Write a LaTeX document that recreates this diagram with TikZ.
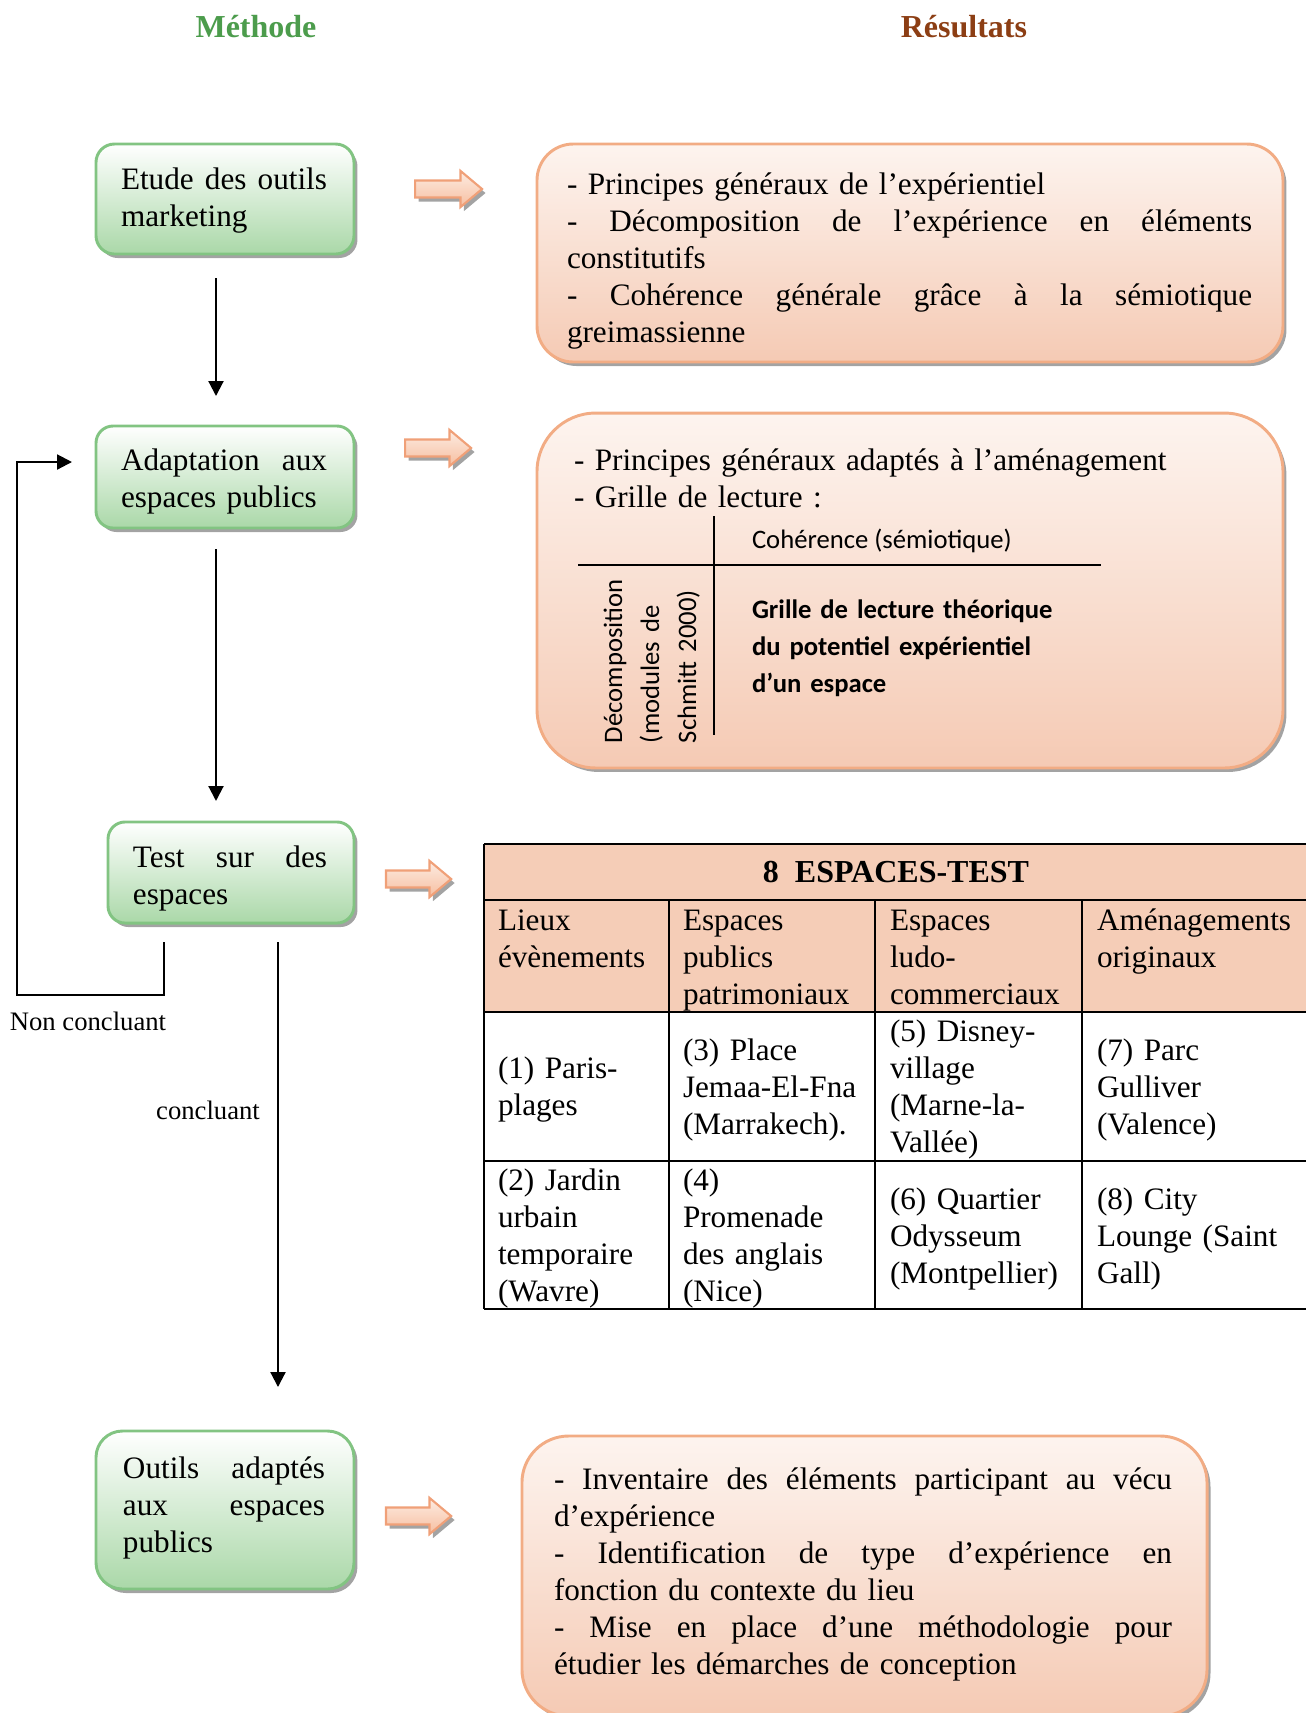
\documentclass[tikz,border=0pt]{standalone}
\usepackage{fontspec}
\setmainfont{Liberation Serif}
\newfontfamily\calibri{Carlito}
\usetikzlibrary{shapes.arrows,shadows,calc,arrows.meta}
\definecolor{methgreen}{RGB}{76,156,76}
\definecolor{resbrown}{RGB}{140,62,20}
\definecolor{gbot}{RGB}{170,216,168}
\definecolor{gborder}{RGB}{130,196,130}
\definecolor{ptop}{RGB}{253,244,239}
\definecolor{pbot}{RGB}{245,202,180}
\definecolor{pborder}{RGB}{242,172,132}
\definecolor{tfill}{RGB}{245,205,183}
\definecolor{atop}{RGB}{253,236,226}
\definecolor{abot}{RGB}{246,190,160}
\definecolor{aborder}{RGB}{240,160,120}
\newcommand{\jl}[1]{\leavevmode\hbox to \hsize{\spaceskip=0.25em plus 1fil\xspaceskip=\spaceskip\relax #1}}
\hyphenpenalty=10000
\begin{document}
\begin{tikzpicture}[x=0.375pt,y=-0.375pt,
  every node/.style={inner sep=0pt, outer sep=0pt},
  tnorm/.style={font=\fontsize{11.7}{13.9}\selectfont},
  tsmall/.style={font=\fontsize{10}{12}\selectfont},
  shad/.style={drop shadow={shadow xshift=1.3pt,shadow yshift=-1.5pt,fill=black!60,opacity=0.6}},
  gbox/.style={rounded corners=#1, draw=gborder, line width=1.1pt, top color=white, bottom color=gbot, shad},
  pbox/.style={rounded corners=#1, draw=pborder, line width=1.1pt, top color=ptop, bottom color=pbot, shad},
  btext/.style={tnorm, anchor=base west, align=left},
  barrow/.style={single arrow, minimum width=12.75pt, single arrow head extend=3.6pt, inner sep=2.8pt, single arrow tip angle=80, draw=aborder, line width=0.8pt, top color=atop, bottom color=abot, shad},
  varrow/.style={line width=0.8pt, -{Triangle[length=5.6pt,width=5.6pt]}},
  gridline/.style={line width=0.6pt},
  tline/.style={line width=0.8pt},
  cell/.style={tnorm, anchor=base west, align=left, text width=80pt},
  calib/.style={font=\calibri\fontsize{10}{13.9}\selectfont}
]
\useasboundingbox (0,0) rectangle (1306,1713);

% titles
\node[font=\fontsize{12}{13.9}\selectfont\bfseries, text=methgreen] (tm) at (256,27) {Méthode};
\node[font=\fontsize{12}{13.9}\selectfont\bfseries, text=resbrown] (tr) at (964,27) {Résultats};

% method boxes
\node[gbox=6.9pt, minimum width=96.75pt, minimum height=41.25pt] (b1) at (225,199) {};
\node[btext, text width=77.25pt] (b1t) at (121,189) {\jl{Etude des outils}\\marketing};
\node[gbox=6.4pt, minimum width=96.75pt, minimum height=38.25pt] (b2) at (225,477) {};
\node[btext, text width=77.25pt] (b2t) at (121,470) {\jl{Adaptation aux}\\espaces publics};
\node[gbox=6.4pt, minimum width=92.25pt, minimum height=37.9pt] (b3) at (231,872.5) {};
\node[btext, text width=72.75pt] (b3t) at (133,867) {\jl{Test sur des}\\espaces};
\node[gbox=9.9pt, minimum width=96.75pt, minimum height=59.25pt] (b4) at (225,1510) {};
\node[btext, text width=75.75pt] (b4t) at (123,1478) {\jl{Outils adaptés}\\\jl{aux espaces}\\publics};

% result boxes
\node[pbox=13.6pt, minimum width=279.75pt, minimum height=81.75pt] (r1) at (910,253) {};
\node[btext, text width=256.9pt] (r1t) at (567,194) {- Principes généraux de l’expérientiel\\\jl{- Décomposition de l’expérience en éléments}\\constitutifs\\\jl{- Cohérence générale grâce à la sémiotique}\\greimassienne};
\node[pbox=22pt, minimum width=279.75pt, minimum height=133.1pt] (r2) at (910,590.5) {};
\node[btext, text width=250pt] (r2t) at (574,470) {- Principes généraux adaptés à l’aménagement\\- Grille de lecture :};
\node[pbox=17.5pt, minimum width=256.9pt, minimum height=105pt] (r4) at (864.5,1576) {};
\node[btext, text width=231.75pt] (r4t) at (554,1489) {\jl{- Inventaire des éléments participant au vécu}\\d’expérience\\\jl{- Identification de type d’expérience en}\\fonction du contexte du lieu\\\jl{- Mise en place d’une méthodologie pour}\\étudier les démarches de conception};

% reading grid inside result box 2
\draw[gridline] (714,516) -- (714,735);
\draw[gridline] (578,565) -- (1101,565);
\node[calib, anchor=base west] (coh) at (752,548) {Cohérence (sémiotique)};
\node[font=\calibri\fontsize{10}{13.9}\selectfont\bfseries, anchor=base west, text width=130pt, align=left] (grl) at (752,618) {Grille de lecture théorique\\du potentiel expérientiel\\d’un espace};
\node[calib, rotate=90, anchor=base west, text width=80pt, align=left] (dec) at (622,743) {Décomposition\\(modules de\\Schmitt 2000)};

% block arrows
\node[barrow, minimum height=25.1pt] (a1) at (443.5,189) {};
\node[barrow, minimum height=24.75pt] (a2) at (433,448) {};
\node[barrow, minimum height=24.4pt] (a3) at (413.5,879) {};
\node[barrow, minimum height=24.4pt] (a4) at (413.5,1516) {};

% method connectors
\draw[varrow] ($(b1.south)+(-9,24)$) -- ($(b2.north)+(-9,-30)$);
\draw[varrow] ($(b2.south)+(-9,21)$) -- ($(b3.north)+(-15,-21)$);
\draw[varrow] ($(b3.south)+(-67,19)$) -- ++(0,53) -- ++(-147,0) |- ($(b2.west)+(-24,-15)$);
\draw[varrow] ($(b3.south)+(47,19)$) -- ($(b4.north)+(53,-44)$);
\node[tsmall] (nc) at (88,1021) {Non concluant};
\node[tsmall] (cc) at (208,1110) {concluant};

% table
\fill[tfill] (484,844) rectangle (1310,1012);
\draw[tline] (484,844) -- (1310,844) (484,900) -- (1310,900) (484,1012) -- (1310,1012)
  (484,1161) -- (1310,1161) (484,1309) -- (1310,1309)
  (484,844) -- (484,1309) (669,900) -- (669,1309) (875,900) -- (875,1309) (1082,900) -- (1082,1309);
\node[font=\fontsize{12}{13.9}\selectfont\bfseries] (tt) at (896,872) {8\ \ ESPACES-TEST};
\node[cell] (h1) at (498,930) {Lieux\\évènements};
\node[cell] (h2) at (683,930) {Espaces\\publics\\patrimoniaux};
\node[cell] (h3) at (890,930) {Espaces\\ludo-\\commerciaux};
\node[cell] (h4) at (1097,930) {Aménagements\\originaux};
\node[cell] (c1) at (498,1078) {(1) Paris-\\plages};
\node[cell] (c3) at (683,1060) {(3) Place\\Jemaa-El-Fna\\(Marrakech).};
\node[cell] (c5) at (890,1041) {(5) Disney-\\village\\(Marne-la-\\Vallée)};
\node[cell] (c7) at (1097,1060) {(7) Parc\\Gulliver\\(Valence)};
\node[cell] (c2) at (498,1190) {(2) Jardin\\urbain\\temporaire\\(Wavre)};
\node[cell] (c4) at (683,1190) {(4)\\Promenade\\des anglais\\(Nice)};
\node[cell] (c6) at (890,1209) {(6) Quartier\\Odysseum\\(Montpellier)};
\node[cell] (c8) at (1097,1209) {(8) City\\Lounge (Saint\\Gall)};
\end{tikzpicture}
\end{document}
